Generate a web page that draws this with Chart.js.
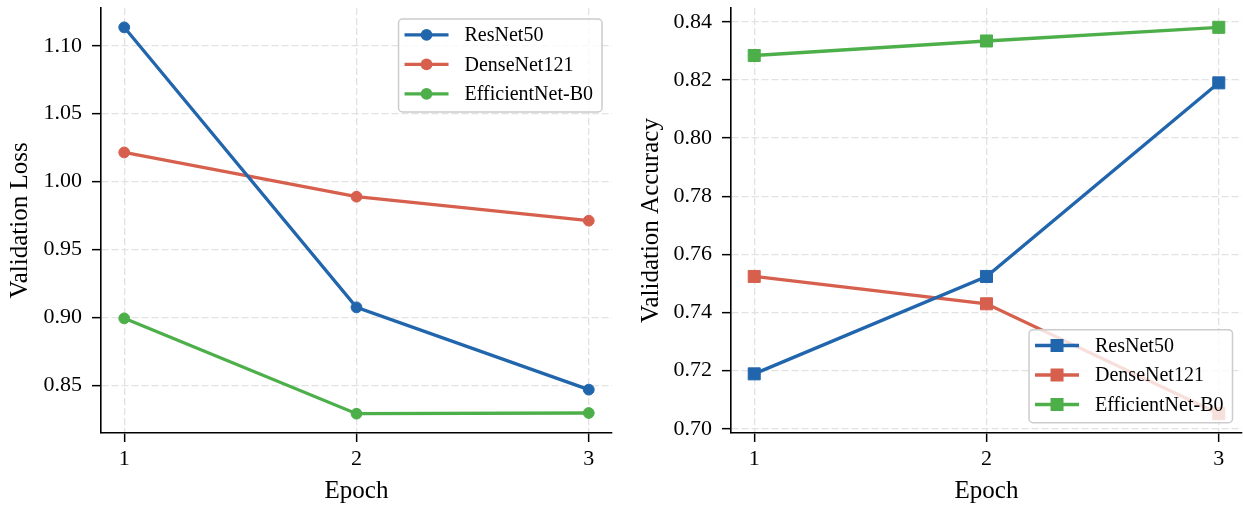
<!DOCTYPE html>
<html>
<head>
<meta charset="utf-8">
<script src="https://cdn.jsdelivr.net/npm/chart.js@4"></script>
<style>
  html, body { margin: 0; padding: 0; background: #ffffff; }
  #wrap { position: relative; width: 1243px; height: 506px; overflow: hidden; }
  .box { position: absolute; top: 0; height: 506px; }
  #b1 { left: 0; width: 620px; }
  #b2 { left: 620px; width: 623px; }
</style>
</head>
<body>
<div id="wrap">
  <div class="box" id="b1"><canvas id="c1"></canvas></div>
  <div class="box" id="b2"><canvas id="c2"></canvas></div>
</div>
<script>
// ---------------- data ----------------
const epochs = [1, 2, 3];
const modelNames = ['ResNet50', 'DenseNet121', 'EfficientNet-B0'];

const lossResNet50 = [1.1136, 0.9074, 0.8468];
const lossDenseNet121 = [1.0215, 0.9889, 0.9712];
const lossEfficientNetB0 = [0.8993, 0.8291, 0.8296];

const accResNet50 = [0.7189, 0.7524, 0.8190];
const accDenseNet121 = [0.7524, 0.7430, 0.7052];
const accEfficientNetB0 = [0.8284, 0.8334, 0.8381];

const epochTicks = [1, 2, 3];
const lossTicks = [0.85, 0.90, 0.95, 1.00, 1.05, 1.10];
const accTicks = [0.70, 0.72, 0.74, 0.76, 0.78, 0.80, 0.82, 0.84];

const colors = ['#2166ac', '#d6604d', '#4daf4a'];

// ---------------- helpers ----------------
Chart.defaults.font.family = "'Liberation Serif', 'DejaVu Serif', 'Times New Roman', serif";
Chart.defaults.color = '#000000';

function toPoints(xs, ys) { return xs.map((x, i) => ({ x: x, y: ys[i] })); }

function range(vals) {
  const lo = Math.min(...vals), hi = Math.max(...vals);
  const m = (hi - lo) * 0.05;
  return [lo - m, hi + m];
}

function makeDatasets(series, pointStyle, radius) {
  return series.map((ys, i) => ({
    label: modelNames[i],
    data: toPoints(epochs, ys),
    borderColor: colors[i],
    backgroundColor: colors[i],
    pointBackgroundColor: colors[i],
    pointBorderColor: colors[i],
    pointBorderWidth: 1,
    borderWidth: 3.3,
    pointStyle: pointStyle,
    pointRadius: radius,
    pointHoverRadius: radius,
    tension: 0,
    fill: false,
    clip: false
  }));
}

// legend drawn inside the plot with a matplotlib-like frame
const boxLegend = {
  id: 'boxLegend',
  afterDatasetsDraw(chart, args, opts) {
    const ctx = chart.ctx;
    const ca = chart.chartArea;
    const ds = chart.data.datasets;
    ctx.save();
    ctx.font = "20px 'Liberation Serif', 'DejaVu Serif', serif";
    let maxW = 0;
    ds.forEach(d => { maxW = Math.max(maxW, ctx.measureText(d.label).width); });
    const textOff = 66, lineOff = 6, lineLen = 44, rowGap = 29.5, firstRow = 15.8;
    const w = textOff + maxW + 9;
    const h = 93;
    const right = ca.right - opts.marginRight;
    const left = right - w;
    const top = opts.loc === 'upper' ? ca.top + opts.marginV : ca.bottom - opts.marginV - h;
    const r = 4;
    ctx.beginPath();
    ctx.moveTo(left + r, top);
    ctx.lineTo(left + w - r, top);
    ctx.arcTo(left + w, top, left + w, top + r, r);
    ctx.lineTo(left + w, top + h - r);
    ctx.arcTo(left + w, top + h, left + w - r, top + h, r);
    ctx.lineTo(left + r, top + h);
    ctx.arcTo(left, top + h, left, top + h - r, r);
    ctx.lineTo(left, top + r);
    ctx.arcTo(left, top, left + r, top, r);
    ctx.closePath();
    ctx.fillStyle = 'rgba(255,255,255,0.8)';
    ctx.fill();
    ctx.strokeStyle = '#cccccc';
    ctx.lineWidth = 1.5;
    ctx.stroke();
    ds.forEach((d, i) => {
      const y = top + firstRow + i * rowGap;
      const mx = left + lineOff + lineLen / 2;
      ctx.strokeStyle = d.borderColor;
      ctx.lineWidth = 3.3;
      ctx.beginPath();
      ctx.moveTo(left + lineOff, y);
      ctx.lineTo(left + lineOff + lineLen, y);
      ctx.stroke();
      ctx.fillStyle = d.borderColor;
      ctx.beginPath();
      if (d.pointStyle === 'rect') {
        const s = d.pointRadius * Math.SQRT1_2 + 0.5;
        ctx.rect(mx - s, y - s, 2 * s, 2 * s);
      } else {
        ctx.arc(mx, y, d.pointRadius + 0.5, 0, Math.PI * 2);
      }
      ctx.fill();
      ctx.fillStyle = '#000000';
      ctx.textBaseline = 'middle';
      ctx.textAlign = 'left';
      ctx.fillText(d.label, left + textOff, y + 1);
    });
    ctx.restore();
  }
};

function makeChart(canvasId, series, yTicks, yTitle, pointStyle, radius, yWidth, yTitlePad, padRight, legendOpts) {
  const yr = range([].concat(...series));
  const xr = [0.9, 3.1];
  return new Chart(document.getElementById(canvasId), {
    type: 'line',
    data: { datasets: makeDatasets(series, pointStyle, radius) },
    plugins: [boxLegend],
    options: {
      responsive: true,
      maintainAspectRatio: false,
      animation: false,
      layout: { autoPadding: false, padding: { top: 8, right: padRight, left: 0, bottom: 0 } },
      plugins: {
        legend: { display: false },
        tooltip: { enabled: false },
        boxLegend: legendOpts
      },
      scales: {
        x: {
          type: 'linear',
          min: xr[0], max: xr[1],
          afterBuildTicks: s => { s.ticks = epochTicks.map(v => ({ value: v })); },
          afterFit: s => { s.height = 73; s.paddingLeft = 0; s.paddingRight = 0; },
          ticks: {
            font: { size: 22 }, color: '#000', padding: 4,
            callback: v => String(v), maxRotation: 0, autoSkip: false
          },
          grid: {
            color: '#e2e2e2', lineWidth: 1.3, drawTicks: true, tickLength: 9,
            tickColor: '#000', tickWidth: 1.5, tickBorderDash: []
          },
          border: { display: true, color: '#000', width: 1.6, dash: [7, 3] },
          title: {
            display: true, text: 'Epoch', font: { size: 25, lineHeight: 1.2 },
            color: '#000', padding: { top: 0, bottom: 0 }
          }
        },
        y: {
          type: 'linear',
          min: yr[0], max: yr[1],
          afterBuildTicks: s => { s.ticks = yTicks.map(v => ({ value: v })); },
          afterFit: s => { s.width = yWidth; s.paddingTop = 0; s.paddingBottom = 0; },
          ticks: {
            font: { size: 22 }, color: '#000', padding: 10,
            callback: v => v.toFixed(2), autoSkip: false
          },
          grid: {
            color: '#e2e2e2', lineWidth: 1.3, drawTicks: true, tickLength: 9,
            tickColor: '#000', tickWidth: 1.5, tickBorderDash: []
          },
          border: { display: true, color: '#000', width: 1.6, dash: [7, 3] },
          title: {
            display: true, text: yTitle, font: { size: 25, lineHeight: 1.2 },
            color: '#000', padding: { top: yTitlePad, bottom: 0 }
          }
        }
      }
    }
  });
}

makeChart('c1', [lossResNet50, lossDenseNet121, lossEfficientNetB0], lossTicks,
  'Validation Loss', 'circle', 5.4, 101, 5, 8,
  { loc: 'upper', marginRight: 10, marginV: 11 });

makeChart('c2', [accResNet50, accDenseNet121, accEfficientNetB0], accTicks,
  'Validation Accuracy', 'rect', 8.5, 111, 16, 1,
  { loc: 'lower', marginRight: 9.5, marginV: 10.3 });
</script>
</body>
</html>
